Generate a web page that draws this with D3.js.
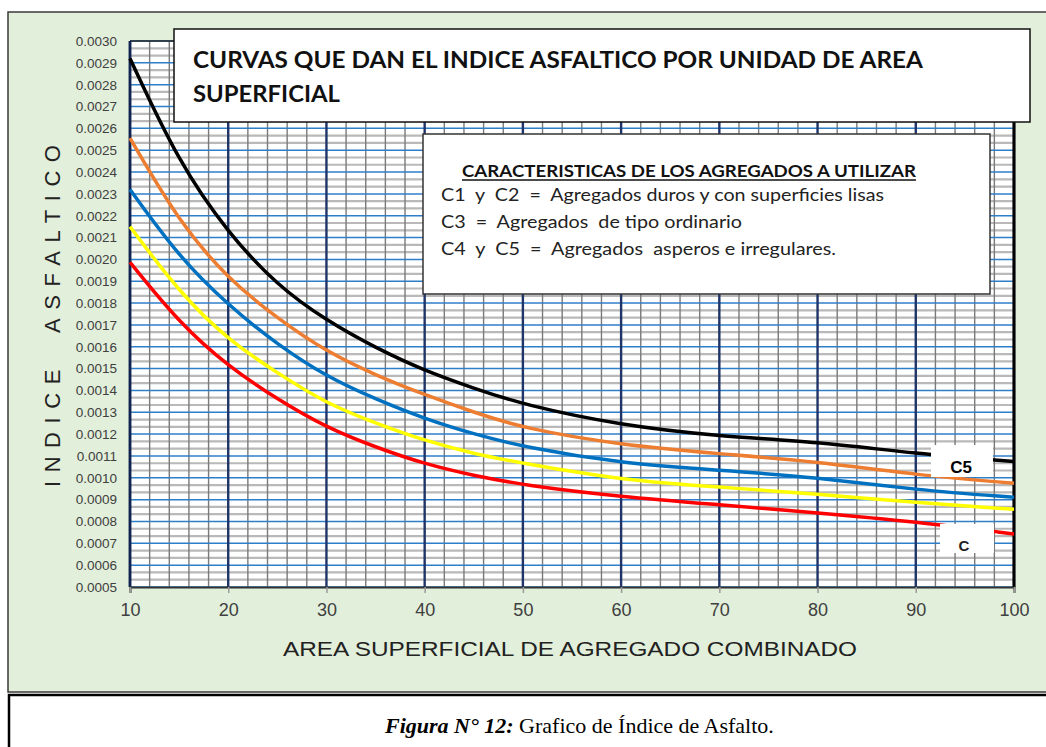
<html>
<head>
<title>Indice asfaltico</title>
<style>
  body { margin: 0; background: white; }
  svg { display: block; }
  .ytick text { font-family: "Liberation Sans", Arial, sans-serif; font-size: 13.5px; fill: #404040; }
  .xtick text { font-family: "Liberation Sans", Arial, sans-serif; font-size: 18px; fill: #404040; }
</style>
</head>
<body>

<svg id="chart" width="1046" height="747"></svg>

<script src="https://d3js.org/d3.v7.min.js"></script>
<script>

// area superficial (x) where each curve was read
var areaValues = [10, 15, 20, 25, 30, 35, 40, 45, 50, 60, 70, 80, 90, 100]

// indice asfaltico, one list per curve
var c5Values = [0.00292, 0.00244, 0.00212, 0.00188, 0.00172, 0.001595, 0.00149, 0.00141, 0.001335, 0.00124, 0.00119, 0.001165, 0.00111, 0.001075]
var c4Values = [0.002555, 0.00217, 0.00191, 0.00173, 0.001577, 0.00147, 0.00138, 0.00130, 0.001227, 0.00115, 0.00111, 0.001074, 0.001013, 0.000975]
var c3Values = [0.00232, 0.00201, 0.00179, 0.00161, 0.001463, 0.00136, 0.00127, 0.00120, 0.001142, 0.001066, 0.001035, 0.001002, 0.000944, 0.000911]
var c2Values = [0.00215, 0.00185, 0.00163, 0.00148, 0.00134, 0.00125, 0.00117, 0.00111, 0.001066, 0.00099, 0.000957, 0.000926, 0.000886, 0.000856]
var c1Values = [0.001987, 0.00171, 0.00151, 0.00136, 0.00123, 0.00114, 0.001063, 0.00101, 0.000967, 0.000913, 0.000877, 0.00084, 0.000799, 0.000743]

var curveNames = ['C5', 'C4', 'C3', 'C2', 'C1']
var curveColors = ['#000000', '#ed7d31', '#0070c0', '#ffff00', '#ff0000']

// tick labels
var xTicks = [10, 20, 30, 40, 50, 60, 70, 80, 90, 100]
var yTicks = [0.0005, 0.0006, 0.0007, 0.0008, 0.0009, 0.0010, 0.0011, 0.0012, 0.0013, 0.0014, 0.0015, 0.0016, 0.0017,
              0.0018, 0.0019, 0.0020, 0.0021, 0.0022, 0.0023, 0.0024, 0.0025, 0.0026, 0.0027, 0.0028, 0.0029, 0.0030]

var chartTitle = ['CURVAS QUE DAN EL INDICE ASFALTICO POR UNIDAD DE AREA', 'SUPERFICIAL']
var legendTitle = 'CARACTERISTICAS DE LOS AGREGADOS A UTILIZAR'
var legendLines = ['C1  y  C2  =  Agregados duros y con superficies lisas',
                   'C3  =  Agregados  de tipo ordinario',
                   'C4  y  C5  =  Agregados  asperos e irregulares.']


let svg = d3.select('#chart')

let plotLeft = 130, plotRight = 1014, plotTop = 41, plotBottom = 587

let x = d3.scaleLinear().domain([10, 100]).range([plotLeft, plotRight])
let y = d3.scaleLinear().domain([0.0005, 0.0030]).range([plotBottom, plotTop])

// green panel behind the chart
svg.append('rect')
  .attr('x', 8).attr('y', 12).attr('width', 1046).attr('height', 680)
  .attr('fill', '#e2efda').attr('stroke', '#3a3a3a').attr('stroke-width', 1.5)

// plot background
svg.append('rect')
  .attr('x', plotLeft).attr('y', plotTop).attr('width', plotRight - plotLeft).attr('height', plotBottom - plotTop)
  .attr('fill', 'white')

let grid = svg.append('g')

// light gray horizontal lines, two between each tick
let minorY = []
for (let i = 0; i < yTicks.length - 1; i++) {
  let step = (yTicks[i + 1] - yTicks[i]) / 3
  minorY.push(yTicks[i] + step, yTicks[i] + 2 * step)
}
grid.selectAll('.hminor').data(minorY).enter().append('line')
  .attr('x1', plotLeft).attr('x2', plotRight)
  .attr('y1', d => y(d)).attr('y2', d => y(d))
  .attr('stroke', '#b9b9b9').attr('stroke-width', 2.2)

// thin gray verticals every 2 units
let minorX = d3.range(10, 100, 2).filter(d => d % 10 != 0)
grid.selectAll('.vminor').data(minorX).enter().append('line')
  .attr('x1', d => x(d)).attr('x2', d => x(d))
  .attr('y1', plotTop).attr('y2', plotBottom)
  .attr('stroke', '#7a7a7a').attr('stroke-width', 1.4)

// blue horizontal lines at the ticks
grid.selectAll('.hmajor').data(yTicks).enter().append('line')
  .attr('x1', plotLeft).attr('x2', plotRight)
  .attr('y1', d => y(d)).attr('y2', d => y(d))
  .attr('stroke', '#2f7fc8').attr('stroke-width', 1.5)

// navy verticals every 10
grid.selectAll('.vmajor').data(xTicks).enter().append('line')
  .attr('x1', d => x(d)).attr('x2', d => x(d))
  .attr('y1', plotTop).attr('y2', plotBottom)
  .attr('stroke', '#1f3468').attr('stroke-width', 2.4)

// frame
svg.append('line').attr('x1', plotLeft).attr('x2', plotRight).attr('y1', plotTop).attr('y2', plotTop)
  .attr('stroke', '#222').attr('stroke-width', 1.5)
svg.append('line').attr('x1', plotRight).attr('x2', plotRight).attr('y1', plotTop).attr('y2', plotBottom)
  .attr('stroke', '#000').attr('stroke-width', 3)
svg.append('line').attr('x1', plotLeft).attr('x2', plotLeft).attr('y1', plotTop).attr('y2', plotBottom)
  .attr('stroke', '#0f2350').attr('stroke-width', 2.6)

// axes
let yAxis = svg.append('g')
  .attr('class', 'ytick')
  .attr('transform', 'translate(' + plotLeft + ',0)')
  .call(d3.axisLeft(y).tickValues(yTicks).tickFormat(d3.format('.4f')).tickSize(0).tickPadding(13))
yAxis.select('.domain').remove()

let xAxis = svg.append('g')
  .attr('class', 'xtick')
  .attr('transform', 'translate(0,' + plotBottom + ')')
  .call(d3.axisBottom(x).tickValues(xTicks).tickSize(6).tickPadding(10))
xAxis.select('.domain').attr('stroke', '#333').attr('stroke-width', 2)
xAxis.selectAll('.tick line').attr('stroke', '#999').attr('stroke-width', 1.5)

// curves
let allCurves = [c5Values, c4Values, c3Values, c2Values, c1Values]
let line = d3.line()
  .x((d, i) => x(areaValues[i]))
  .y(d => y(d))
  .curve(d3.curveBasis)

svg.append('g').selectAll('path')
  .data(allCurves).enter().append('path')
  .attr('d', d => line(d))
  .attr('fill', 'none')
  .attr('stroke', (d, i) => curveColors[i])
  .attr('stroke-width', 3.5)
  .attr('stroke-linecap', 'butt')

// white label boxes at the right end
svg.append('rect').attr('x', 931).attr('y', 445).attr('width', 62).attr('height', 32).attr('fill', 'white')
svg.append('text').attr('x', 961).attr('y', 473).attr('text-anchor', 'middle')
  .style('font-family', '"Liberation Sans", Arial, sans-serif').style('font-weight', 'bold').style('font-size', '17px')
  .text(curveNames[0])
svg.append('rect').attr('x', 940).attr('y', 524).attr('width', 54).attr('height', 29).attr('fill', 'white')
svg.append('text').attr('x', 964).attr('y', 551).attr('text-anchor', 'middle')
  .style('font-family', '"Liberation Sans", Arial, sans-serif').style('font-weight', 'bold').style('font-size', '15px')
  .attr('fill', '#222')
  .text('C')

// title box
svg.append('rect').attr('x', 174).attr('y', 29).attr('width', 856).attr('height', 93)
  .attr('fill', 'white').attr('stroke', '#111').attr('stroke-width', 1.5)
let titleWidths = [730, 147]
let titleBase = [68, 102]
chartTitle.forEach((t, i) => {
  svg.append('text').attr('x', 193).attr('y', titleBase[i])
    .attr('textLength', titleWidths[i]).attr('lengthAdjust', 'spacingAndGlyphs')
    .style('font-family', 'Lato, "Open Sans", sans-serif').style('font-weight', 'bold').style('font-size', '23px')
    .attr('fill', '#111')
    .text(t)
})

// legend box
svg.append('rect').attr('x', 423).attr('y', 134).attr('width', 567).attr('height', 160)
  .attr('fill', 'white').attr('stroke', '#333').attr('stroke-width', 1.5)
svg.append('text').attr('x', 462).attr('y', 177)
  .attr('textLength', 454).attr('lengthAdjust', 'spacingAndGlyphs')
  .style('font-family', 'Lato, "Open Sans", sans-serif').style('font-weight', 'bold').style('font-size', '17px')
  .attr('fill', '#111')
  .text(legendTitle)
svg.append('line').attr('x1', 462).attr('x2', 916).attr('y1', 180).attr('y2', 180)
  .attr('stroke', '#111').attr('stroke-width', 1.3)
let legendWidths = [443, 301, 395]
let legendBase = [201, 228, 255]
legendLines.forEach((t, i) => {
  svg.append('text').attr('x', 441).attr('y', legendBase[i])
    .attr('textLength', legendWidths[i]).attr('lengthAdjust', 'spacingAndGlyphs')
    .style('font-family', 'Lato, "Open Sans", sans-serif').style('font-size', '17px')
    .style('white-space', 'pre')
    .attr('fill', '#222')
    .text(t)
})

// axis titles
svg.append('text')
  .attr('transform', 'translate(60,316) rotate(-90)')
  .attr('text-anchor', 'middle')
  .attr('textLength', 342).attr('lengthAdjust', 'spacing')
  .style('font-family', '"Liberation Sans", Arial, sans-serif').style('font-size', '22px')
  .style('white-space', 'pre')
  .attr('fill', '#222')
  .text('INDICE  ASFALTICO')

svg.append('text')
  .attr('x', 570).attr('y', 656).attr('text-anchor', 'middle')
  .attr('textLength', 574).attr('lengthAdjust', 'spacingAndGlyphs')
  .style('font-family', '"Liberation Sans", Arial, sans-serif').style('font-size', '21px')
  .attr('fill', '#222')
  .text('AREA SUPERFICIAL DE AGREGADO COMBINADO')

// caption box below
svg.append('rect').attr('x', 9).attr('y', 695).attr('width', 1046).attr('height', 60)
  .attr('fill', 'white').attr('stroke', '#000').attr('stroke-width', 2.5)
let cap = svg.append('text').attr('x', 385).attr('y', 733)
  .style('font-family', '"Liberation Serif", "Times New Roman", serif').style('font-size', '22px')
  .attr('fill', '#000')
cap.append('tspan').style('font-weight', 'bold').style('font-style', 'italic').text('Figura N° 12:')
cap.append('tspan').text(' Grafico de Índice de Asfalto.')

</script>
</body>
</html>
